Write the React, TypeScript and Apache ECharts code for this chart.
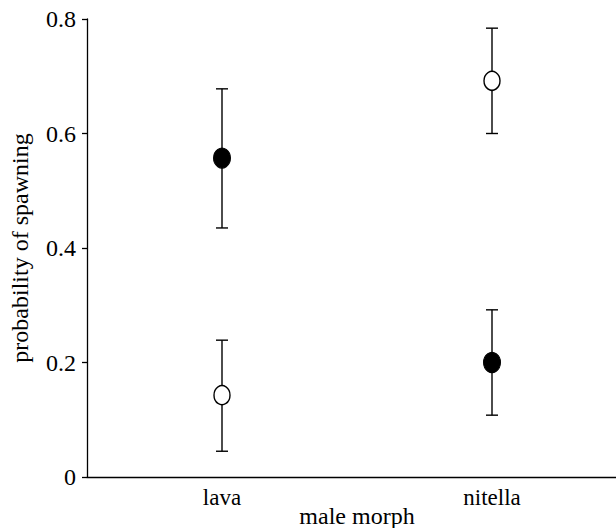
import React, { useEffect, useRef } from "react";
import * as echarts from "echarts";

const categories = ["lava", "nitella"];
const filledMean = [0.557, 0.2];
const filledLow = [0.435, 0.108];
const filledHigh = [0.678, 0.292];
const openMean = [0.143, 0.692];
const openLow = [0.045, 0.6];
const openHigh = [0.239, 0.784];
const yTicks = [0, 0.2, 0.4, 0.6, 0.8];

const FONT = "Liberation Serif";

export default function App() {
  const ref = useRef<HTMLDivElement>(null);
  useEffect(() => {
    document.body.style.margin = "0";
    document.body.style.overflow = "hidden";
    const chart = echarts.init(ref.current!, undefined, { renderer: "svg" });
    const errData: number[][] = [];
    categories.forEach((_, i) => {
      errData.push([i, filledLow[i], filledHigh[i]]);
      errData.push([i, openLow[i], openHigh[i]]);
    });
    const capHalf = 6;
    chart.setOption({
      animation: false,
      textStyle: { fontFamily: FONT },
      grid: { left: 87, right: -11, top: 19, bottom: 51, outerBoundsMode: "none", containLabel: false },
      xAxis: {
        type: "category",
        data: categories,
        name: "male morph",
        nameLocation: "middle",
        nameGap: 27,
        nameMoveOverlap: false,
        nameTextStyle: { fontFamily: FONT, fontSize: 24, color: "#000" },
        axisLine: { lineStyle: { color: "#000", width: 1.3 } },
        axisTick: { alignWithLabel: true, length: 6, lineStyle: { color: "#000", width: 1.3 } },
        axisLabel: { fontFamily: FONT, fontSize: 23, color: "#000", margin: 9 },
        splitLine: { show: false },
      },
      yAxis: {
        type: "value",
        min: yTicks[0],
        max: yTicks[yTicks.length - 1],
        interval: 0.2,
        name: "probability of spawning",
        nameLocation: "middle",
        nameGap: 55,
        nameMoveOverlap: false,
        nameTextStyle: { fontFamily: FONT, fontSize: 24, color: "#000" },
        axisLine: { show: true, lineStyle: { color: "#000", width: 1.3 } },
        axisTick: { show: true, length: 5, lineStyle: { color: "#000", width: 1.3 } },
        axisLabel: { fontFamily: FONT, fontSize: 24, color: "#000", margin: 11 },
        splitLine: { show: false },
      },
      series: [
        {
          type: "custom",
          data: errData,
          z: 1,
          renderItem: (params: any, api: any) => {
            const x = api.value(0);
            const lo = api.coord([x, api.value(1)]);
            const hi = api.coord([x, api.value(2)]);
            const style = { stroke: "#000", lineWidth: 1.4 };
            return {
              type: "group",
              children: [
                { type: "line", shape: { x1: lo[0], y1: lo[1], x2: hi[0], y2: hi[1] }, style },
                { type: "line", shape: { x1: lo[0] - capHalf, y1: lo[1], x2: lo[0] + capHalf, y2: lo[1] }, style },
                { type: "line", shape: { x1: hi[0] - capHalf, y1: hi[1], x2: hi[0] + capHalf, y2: hi[1] }, style },
              ],
            };
          },
        },
        {
          type: "scatter",
          z: 3,
          symbol: "circle",
          symbolSize: [17, 20],
          data: filledMean.map((v, i) => [i, v]),
          itemStyle: { color: "#000", borderColor: "#000", borderWidth: 1, opacity: 1 },
        },
        {
          type: "scatter",
          z: 3,
          symbol: "circle",
          symbolSize: [16, 19],
          data: openMean.map((v, i) => [i, v]),
          itemStyle: { color: "#fff", borderColor: "#000", borderWidth: 1.5, opacity: 1 },
        },
      ],
    });
    return () => chart.dispose();
  }, []);
  return (
    <div style={{ position: "absolute", left: 0, top: 0, width: 616, height: 528, overflow: "hidden" }}>
      <div ref={ref} style={{ width: 616, height: 528 }} />
    </div>
  );
}
